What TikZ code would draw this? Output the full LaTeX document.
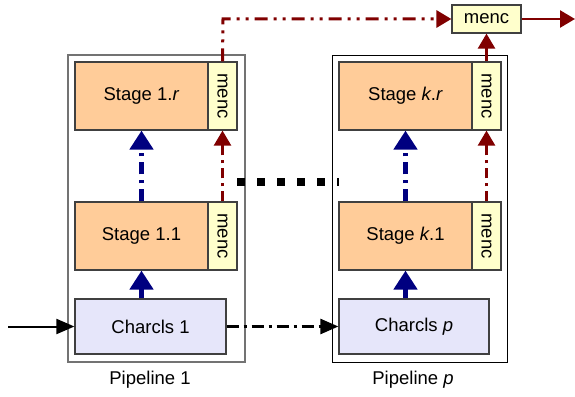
\documentclass[tikz,border=0pt]{standalone}
\usepackage{fontspec}
\setmainfont{Liberation Sans}
\usetikzlibrary{arrows.meta}
\definecolor{stagefill}{HTML}{FFCC99}
\definecolor{mencfill}{HTML}{FFFFCC}
\definecolor{charfill}{HTML}{E6E6FA}
\definecolor{navyarrow}{HTML}{000080}
\definecolor{redarrow}{HTML}{800000}
\tikzset{
  boxline/.style={draw=black!75, line width=1.2pt},
  stagebox/.style={boxline, fill=stagefill, minimum width=133pt, minimum height=68pt, inner sep=0pt},
  mencbox/.style={boxline, fill=mencfill, minimum width=29pt, minimum height=68pt, inner sep=0pt},
  topmencbox/.style={boxline, fill=mencfill, minimum width=69pt, minimum height=28pt, inner sep=0pt},
  charbox/.style={boxline, fill=charfill, minimum width=151pt, minimum height=55pt, inner sep=0pt},
  mencword/.style={rotate=-90, inner sep=0pt},
  pipebox/.style={draw, inner sep=0pt, minimum height=307pt},
  bluehead/.style={-{Triangle[length=19pt,width=23pt]}},
  redhead/.style={-{Triangle[length=15pt,width=17pt]}},
  blackhead/.style={-{Triangle[length=18pt,width=15pt]}},
  bluesolid/.style={draw=navyarrow, line width=5.5pt, bluehead},
  bluedashdot/.style={bluesolid, dash pattern=on 12pt off 6pt on 3pt off 6pt},
  redsolid/.style={draw=redarrow, line width=2.5pt, redhead},
  reddashdot/.style={redsolid, dash pattern=on 10pt off 5pt on 3pt off 5pt},
  reddashdotdot/.style={redsolid, line width=3pt, dash pattern=on 13pt off 6pt on 3pt off 6pt on 3pt off 6pt},
  inarrow/.style={draw=black, line width=2pt, blackhead},
  passarrow/.style={inarrow, line width=2.5pt, dash pattern=on 12pt off 5pt on 3pt off 5pt},
  gapline/.style={draw=black, line width=8pt, dash pattern=on 8pt off 12pt},
}
\begin{document}
\begin{tikzpicture}[x=1pt, y=-1pt, font=\fontsize{18.5}{22}\selectfont]
\useasboundingbox (0,0) rectangle (575,396);

% pipeline frames
\node[pipebox, draw=black!55, line width=1.4pt, minimum width=177pt] (pipe1) at (156.5,208.5) {};
\node[pipebox, draw=black, line width=0.9pt, minimum width=175pt] (pipep) at (419.5,208.5) {};

% pipeline 1
\node[stagebox] (s1r) at (141.5,96) {Stage 1.\textit{r}};
\node[mencbox] (m1r) at (222.5,96) {};
\node[mencword] (m1rt) at (m1r) {menc};
\node[stagebox] (s11) at (141.5,236) {Stage 1.1};
\node[mencbox] (m11) at (222.5,236) {};
\node[mencword] (m11t) at (m11) {menc};
\node[charbox] (c1) at (150.5,326.5) {Charcls 1};
\node (lab1) at (150,380) {Pipeline 1};

% pipeline p
\node[stagebox] (skr) at (405.5,96) {Stage \textit{k}.\textit{r}};
\node[mencbox] (mkr) at (486.5,96) {};
\node[mencword] (mkrt) at (mkr) {menc};
\node[stagebox] (sk1) at (405.5,236) {Stage \textit{k}.1};
\node[mencbox] (mk1) at (486.5,236) {};
\node[mencword] (mk1t) at (mk1) {menc};
\node[charbox, minimum width=150pt] (cp) at (414,326.5) {Charcls \textit{p}};
\node (labp) at (413,380) {Pipeline \textit{p}};

% final merge
\node[topmencbox] (mtop) at (486.5,19) {menc};

% free ends
\coordinate (inL) at (8,326.5);
\coordinate (outR) at (575,19);
\coordinate (gapL) at (237,182);
\coordinate (gapR) at (339,182);
\coordinate (bend) at (223,19);

% data flow
\draw[inarrow] (inL) -- (c1.west);
\draw[passarrow] (c1.east) -- (cp.west);
\draw[bluesolid] (c1.north -| s11.south) -- (s11.south);
\draw[bluesolid] (cp.north -| sk1.south) -- (sk1.south);
\draw[bluedashdot] (s11.north) -- (s1r.south);
\draw[bluedashdot] (sk1.north) -- (skr.south);
\draw[reddashdot] (m11.north) -- (m1r.south);
\draw[reddashdot] (mk1.north) -- (mkr.south);
\draw[reddashdotdot] (m1r.north) -- (bend) -- (mtop.west);
\draw[redsolid] (mkr.north) -- (mtop.south);
\draw[redsolid] (mtop.east) -- (outR);
\draw[gapline] (gapL) -- (gapR);
\end{tikzpicture}
\end{document}
